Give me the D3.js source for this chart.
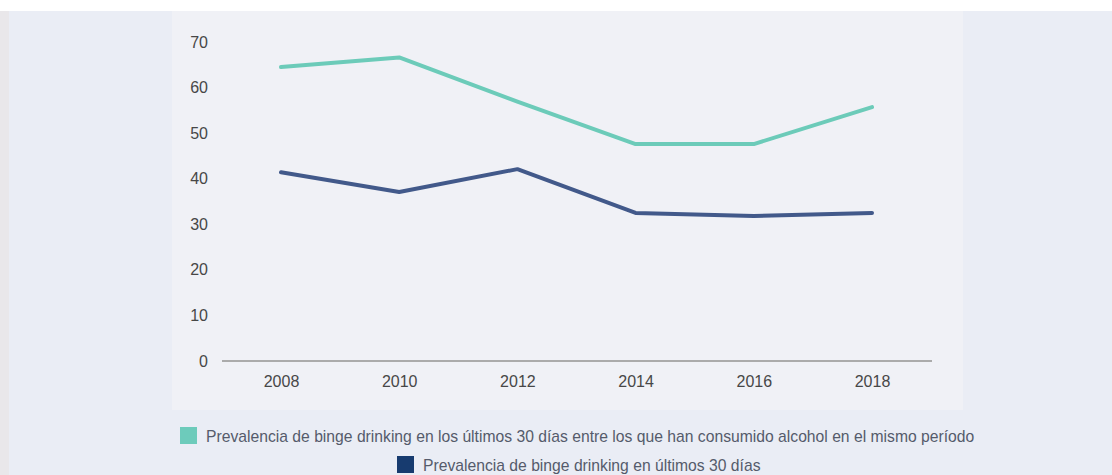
<!DOCTYPE html>
<html><head><meta charset="utf-8">
<script src="https://cdn.jsdelivr.net/npm/d3@7"></script>
<style>
html,body{margin:0;padding:0;background:#fff;}
svg{display:block;font-family:"Liberation Sans",Arial,sans-serif;}
</style></head>
<body>
<svg id="chart" width="1112" height="475"></svg>
<script>
const years = [2008, 2010, 2012, 2014, 2016, 2018];
const yTicks = [0, 10, 20, 30, 40, 50, 60, 70];
const seriesNames = [
  "Prevalencia de binge drinking en los últimos 30 días entre los que han consumido alcohol en el mismo período",
  "Prevalencia de binge drinking en últimos 30 días"
];
const bingeAmongDrinkers = [64.5, 66.6, 56.9, 47.6, 47.6, 55.7];
const bingeTotal = [41.4, 37.1, 42.1, 32.5, 31.8, 32.5];
const lineColors = ["#6ccbb9", "#42598a"];
const legendColors = ["#6dcbbb", "#173b6f"];

const svg = d3.select("#chart");
svg.append("rect").attr("x",0).attr("y",0).attr("width",1112).attr("height",475).attr("fill","#fff");
svg.append("rect").attr("x",0).attr("y",11).attr("width",9).attr("height",464).attr("fill","#e9e7ea");
svg.append("rect").attr("x",9).attr("y",11).attr("width",1103).attr("height",464).attr("fill","#eaedf5");
svg.append("rect").attr("x",172).attr("y",11).attr("width",791).attr("height",399).attr("fill","#f0f1f6");

const x = d3.scalePoint().domain(years).range([281, 872]);
const y = d3.scaleLinear().domain([0, 70]).range([361, 42]);

// y labels
const yAxis = d3.axisLeft(y).tickValues(yTicks).tickSize(0).tickPadding(0);
const gy = svg.append("g").attr("transform","translate(208,0)").call(yAxis);
gy.select(".domain").remove();
gy.selectAll("text").attr("font-size",16).attr("fill","#474747").attr("font-family","Liberation Sans, Arial, sans-serif");

// x axis
const xAxis = d3.axisBottom(x).tickSize(0).tickPadding(15);
const gx = svg.append("g").attr("transform",`translate(0,${y(0)})`).call(xAxis);
gx.select(".domain").remove();
gx.append("line").attr("x1",222).attr("x2",932).attr("y1",0).attr("y2",0).attr("stroke","#ababab").attr("stroke-width",2);
gx.selectAll("text").attr("font-size",16).attr("fill","#474747").attr("font-family","Liberation Sans, Arial, sans-serif");

const line = d3.line().x((d,i)=>x(years[i])).y(d=>y(d));
[bingeAmongDrinkers, bingeTotal].forEach((s,k)=>{
  svg.append("path").datum(s).attr("d",line).attr("fill","none")
    .attr("stroke",lineColors[k]).attr("stroke-width",4).attr("stroke-linecap","round").attr("stroke-linejoin","round");
});

// legend
const legendPos = [[180,427],[397,456]];
seriesNames.forEach((n,k)=>{
  const [lx,ly] = legendPos[k];
  svg.append("rect").attr("x",lx).attr("y",ly).attr("width",17).attr("height",17).attr("fill",legendColors[k]);
  svg.append("text").attr("x",lx+26).attr("y",ly+14.5).attr("font-size",15.7).attr("fill","#555b6b").text(n);
});
</script>
</body></html>
